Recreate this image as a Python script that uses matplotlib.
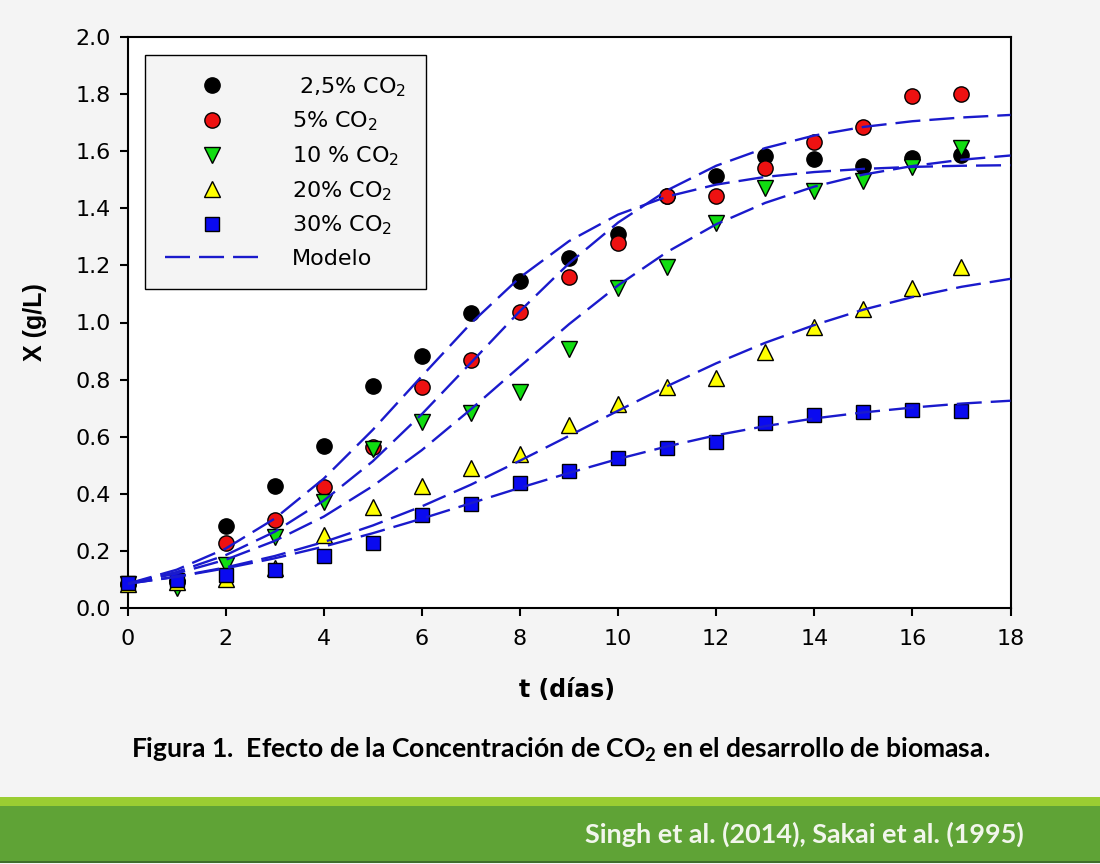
import matplotlib
matplotlib.use('Agg')
import matplotlib.pyplot as plt
from matplotlib.lines import Line2D
from matplotlib.patches import Rectangle

plt.rcParams['lines.scale_dashes'] = False
plt.rcParams['mathtext.default'] = 'regular'
plt.rcParams['font.family'] = ['DejaVu Sans']

# ---------------- data ----------------
t_obs = [0, 1, 2, 3, 4, 5, 6, 7, 8, 9, 10, 11, 12, 13, 14, 15, 16, 17]
x_co2_25 = [0.085, 0.09, 0.288, 0.426, 0.566, 0.777, 0.883, 1.032, 1.146, 1.227,
            1.311, 1.443, 1.512, 1.583, 1.573, 1.549, 1.577, 1.585]
x_co2_5 = [0.085, 0.095, 0.226, 0.307, 0.425, 0.565, 0.773, 0.869, 1.038, 1.160,
           1.277, 1.443, 1.443, 1.540, 1.633, 1.686, 1.793, 1.800]
x_co2_10 = [0.085, 0.07, 0.151, 0.250, 0.372, 0.557, 0.652, 0.684, 0.756, 0.908,
            1.120, 1.193, 1.347, 1.470, 1.462, 1.497, 1.544, 1.610]
x_co2_20 = [0.085, 0.09, 0.10, 0.14, 0.256, 0.355, 0.427, 0.489, 0.539, 0.641,
            0.714, 0.773, 0.805, 0.898, 0.985, 1.046, 1.122, 1.193]
x_co2_30 = [0.087, 0.098, 0.116, 0.133, 0.181, 0.229, 0.326, 0.364, 0.439, 0.481,
            0.524, 0.561, 0.583, 0.647, 0.676, 0.688, 0.694, 0.690]

t_model = [0, 1, 2, 3, 4, 5, 6, 7, 8, 9, 10, 11, 12, 13, 14, 15, 16, 17, 18]
m_co2_25 = [0.085, 0.134, 0.208, 0.313, 0.453, 0.624, 0.812, 0.997, 1.158, 1.285,
            1.378, 1.441, 1.483, 1.510, 1.527, 1.538, 1.545, 1.549, 1.551]
m_co2_5 = [0.085, 0.126, 0.185, 0.267, 0.376, 0.514, 0.679, 0.859, 1.040, 1.207,
           1.350, 1.463, 1.549, 1.611, 1.655, 1.685, 1.705, 1.718, 1.727]
m_co2_10 = [0.085, 0.121, 0.169, 0.235, 0.320, 0.427, 0.553, 0.696, 0.846, 0.994,
            1.130, 1.247, 1.344, 1.419, 1.476, 1.518, 1.548, 1.570, 1.585]
m_co2_20 = [0.085, 0.110, 0.142, 0.182, 0.231, 0.289, 0.356, 0.432, 0.516, 0.603,
            0.691, 0.777, 0.857, 0.929, 0.991, 1.045, 1.089, 1.125, 1.153]
m_co2_30 = [0.085, 0.109, 0.139, 0.174, 0.215, 0.262, 0.313, 0.367, 0.421, 0.473,
            0.522, 0.566, 0.605, 0.637, 0.664, 0.685, 0.702, 0.716, 0.726]

labels = [' 2,5% CO$_2$', '5% CO$_2$', '10 % CO$_2$', '20% CO$_2$', '30% CO$_2$']
model_label = 'Modelo'
x_ticks = [0, 2, 4, 6, 8, 10, 12, 14, 16, 18]
y_ticks = [0.0, 0.2, 0.4, 0.6, 0.8, 1.0, 1.2, 1.4, 1.6, 1.8, 2.0]
x_label = 't (días)'
y_label = 'X (g/L)'
caption = 'Figura 1.  Efecto de la Concentración de CO$_2$ en el desarrollo de biomasa.'
citation = 'Singh et al. (2014), Sakai et al. (1995)'

# ---------------- figure ----------------
W, H = 1100, 864
fig = plt.figure(figsize=(W / 100, H / 100), dpi=100, facecolor='#f4f4f4')
ax = fig.add_axes([127.5 / W, 1 - 608 / H, 883 / W, 571 / H])
ax.set_facecolor('white')

observed = [x_co2_25, x_co2_5, x_co2_10, x_co2_20, x_co2_30]
models = [m_co2_25, m_co2_5, m_co2_10, m_co2_20, m_co2_30]
markers = ['o', 'o', 'v', '^', 's']
colors = ['#000000', '#ee1111', '#11dd11', '#ffff00', '#0a0af0']
sizes = [11, 11, 11, 11, 10]
line_color = '#1a1acc'
dash = (0, (18, 6.5))

handles = []
for vals, mk, col, ms, lab in zip(observed, markers, colors, sizes, labels):
    ax.plot(t_obs, vals, ls='none', marker=mk, mfc=col, mec='black', mew=1.0,
            ms=ms, clip_on=False, zorder=3)
    handles.append(Line2D([], [], ls='none', marker=mk, mfc=col, mec='black',
                          mew=1.0, ms=ms, label=lab))
for m in models:
    ax.plot(t_model, m, color=line_color, lw=1.7, ls=dash, zorder=4)
handles.append(Line2D([], [], color=line_color, lw=1.7, ls=dash, label=model_label))

ax.set_xlim(0, 18)
ax.set_ylim(0, 2.0)
ax.set_xticks(x_ticks)
ax.set_yticks(y_ticks)
ax.set_xticklabels([str(v) for v in x_ticks])
ax.set_yticklabels(['%.1f' % v for v in y_ticks])
ax.tick_params(direction='out', length=6, width=1.5, labelsize=16, color='black')
ax.tick_params(axis='x', pad=9)
ax.tick_params(axis='y', pad=6)
for sp in ax.spines.values():
    sp.set_linewidth(1.5)
    sp.set_color('black')

leg = ax.legend(handles=handles, loc='upper left',
                bbox_to_anchor=(145 / W, 1 - 55 / H), bbox_transform=fig.transFigure,
                borderaxespad=0, fontsize=16, handlelength=4.2,
                handletextpad=1.5, borderpad=0.9, labelspacing=0.5,
                fancybox=False, framealpha=1, facecolor='#f4f4f4',
                edgecolor='black')
leg.get_frame().set_linewidth(1.0)

fig.text(567 / W, 1 - 690 / H, x_label, ha='center', va='center',
         fontsize=17, fontweight='bold', family='DejaVu Sans')
fig.text(35 / W, 1 - 322 / H, y_label, ha='center', va='center', rotation=90,
         fontsize=18, fontweight='bold', family=['Liberation Sans', 'DejaVu Sans'])

# green footer band
fig.patches.append(Rectangle((0, 1 - 806 / H), 1, 9 / H, transform=fig.transFigure,
                             facecolor='#9acd32', edgecolor='none', zorder=0))
fig.patches.append(Rectangle((0, 1 - 861 / H), 1, 55 / H, transform=fig.transFigure,
                             facecolor='#5fa336', edgecolor='none', zorder=0))
fig.patches.append(Rectangle((0, 1 - 862.5 / H), 1, 1.5 / H, transform=fig.transFigure,
                             facecolor='#3f6e2a', edgecolor='none', zorder=0))

renderer = fig.canvas.get_renderer()


def fit_width(txt, target):
    w = txt.get_window_extent(renderer=renderer).width
    txt.set_fontsize(txt.get_fontsize() * target / w)


cap = fig.text(560.5 / W, 1 - 758 / H, caption, ha='center', va='baseline',
               fontsize=17, fontweight='bold', family=['Lato', 'DejaVu Sans'],
               color='#000000')
fit_width(cap, 860)
cit = fig.text(1024 / W, 1 - 843 / H, citation, ha='right', va='baseline',
               fontsize=18, fontweight='bold', family=['Lato', 'DejaVu Sans'],
               color='#f2f6ec')
fit_width(cit, 440)

fig.savefig('out.png', dpi=100, facecolor=fig.get_facecolor())
